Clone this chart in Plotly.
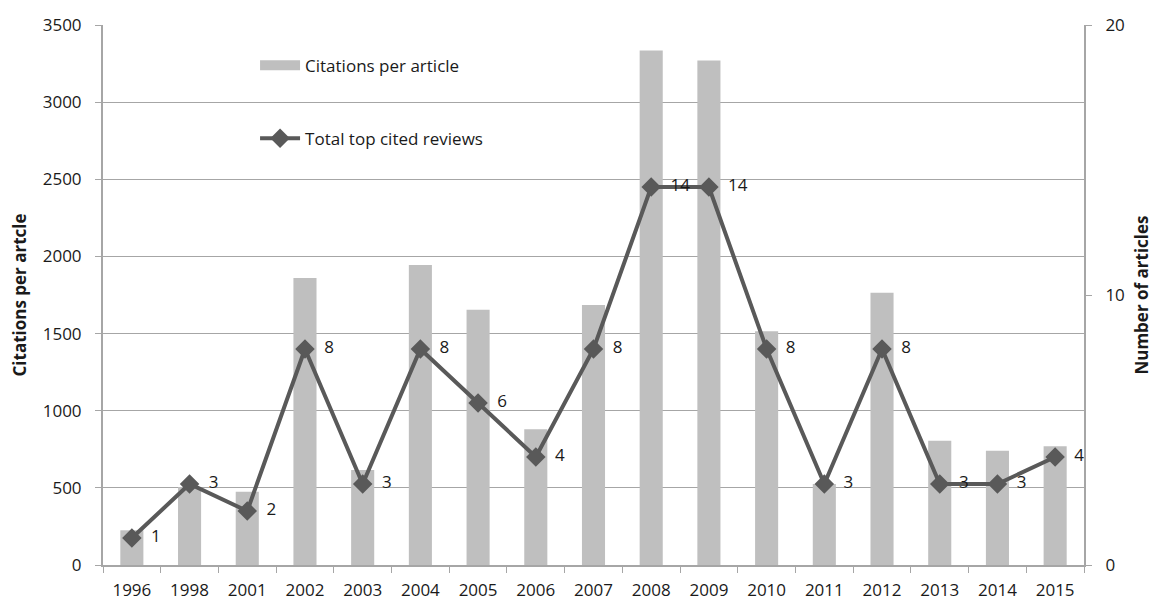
import plotly.graph_objects as go

years = ["1996", "1998", "2001", "2002", "2003", "2004", "2005", "2006", "2007",
         "2008", "2009", "2010", "2011", "2012", "2013", "2014", "2015"]
citations = [225, 505, 475, 1860, 615, 1945, 1655, 880, 1685,
             3335, 3270, 1515, 525, 1765, 805, 740, 770]
reviews = [1, 3, 2, 8, 3, 8, 6, 4, 8, 14, 14, 8, 3, 8, 3, 3, 4]

FONT = "Open Sans"
BAR_COLOR = "#BFBFBF"
LINE_COLOR = "#595959"
fig = go.Figure()
fig.add_trace(go.Bar(
    x=years, y=citations, name="Citations per article",
    marker=dict(color=BAR_COLOR, line=dict(width=0)),
    showlegend=False, yaxis="y",
))
# legend proxy giving a wide rectangular swatch like the original
fig.add_trace(go.Scatter(
    x=[None], y=[None], name="Citations per article", mode="lines",
    line=dict(color=BAR_COLOR, width=12), legendgroup="a", yaxis="y",
))
fig.add_trace(go.Scatter(
    x=years, y=reviews, name="Total top cited reviews",
    mode="lines+markers+text",
    line=dict(color=LINE_COLOR, width=4),
    marker=dict(symbol="diamond", size=15, color=LINE_COLOR),
    text=["  " + str(v) for v in reviews], textposition="middle right",
    textfont=dict(family=FONT, size=17, color="#1a1a1a"),
    legendgroup="b", yaxis="y2", cliponaxis=False,
))

fig.update_layout(
    width=1159, height=601,
    margin=dict(l=103, r=75, t=25, b=36),
    paper_bgcolor="white", plot_bgcolor="white",
    font=dict(family=FONT, size=17, color="#1a1a1a"),
    bargap=0.6,
    showlegend=True,
    legend=dict(x=0.155, y=0.958, xanchor="left", yanchor="top",
                bgcolor="rgba(0,0,0,0)", tracegroupgap=48,
                font=dict(family=FONT, size=17, color="#1a1a1a"),
                itemwidth=40),
    xaxis=dict(type="category", range=[-0.5, 16.5], showline=True,
               linecolor="#A6A6A6", linewidth=2, automargin=False,
               ticks="outside", tickson="boundaries", ticklen=6, tickcolor="#A6A6A6",
               tickwidth=1, tickfont=dict(size=17), showgrid=False, zeroline=False,
               ticklabelstandoff=9),
    yaxis=dict(range=[0, 3500], dtick=500, showline=True, linecolor="#A6A6A6",
               linewidth=2, ticks="outside", ticklen=6, tickcolor="#A6A6A6",
               showgrid=True, gridcolor="#A6A6A6", gridwidth=1, zeroline=False,
               tickfont=dict(size=17), automargin=False, ticklabelstandoff=10,
               title=dict(text="<b>Citations per artcle</b>", font=dict(size=17), standoff=12)),
    yaxis2=dict(range=[0, 20], dtick=10, overlaying="y", side="right",
                showline=True, linecolor="#A6A6A6", linewidth=2, ticks="outside",
                ticklen=6, tickcolor="#A6A6A6", showgrid=False, zeroline=False,
                tickfont=dict(size=17), automargin=False, ticklabelstandoff=10,
                title=dict(text="<b>Number of articles</b>", font=dict(size=17), standoff=12)),
)

fig.write_html("out.html")
